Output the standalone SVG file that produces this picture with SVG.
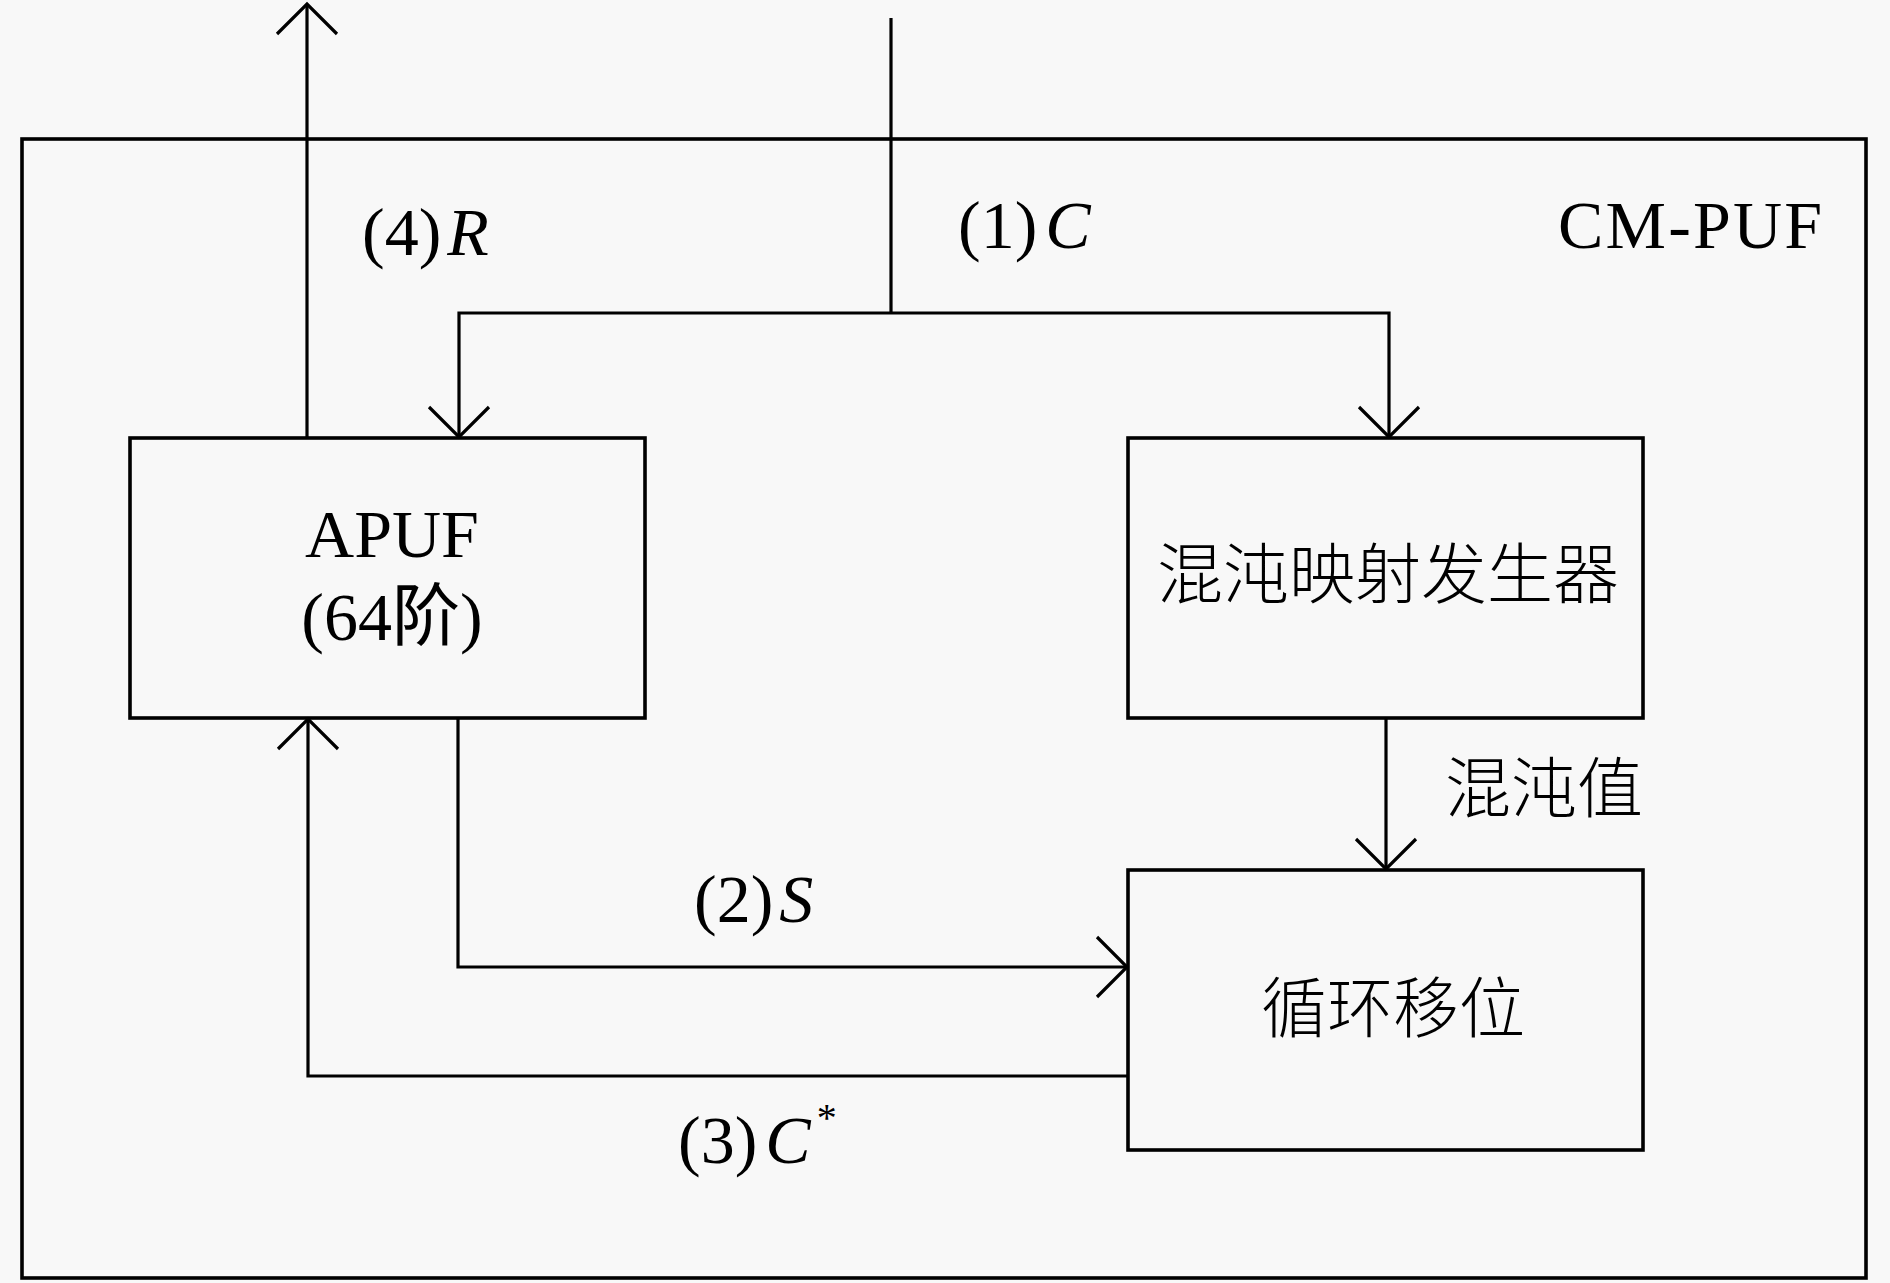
<svg xmlns="http://www.w3.org/2000/svg" width="1890" height="1283" viewBox="0 0 1890 1283">
<style>
.box{fill:none;stroke:#000;stroke-width:3.6}
.ln{fill:none;stroke:#000;stroke-width:3.2}
.lat{font-family:"Liberation Serif","Noto Sans CJK SC",serif;font-size:68px;fill:#000}
.it{font-style:italic}
.cjk{font-family:"Noto Sans CJK SC",sans-serif;font-size:66px;font-weight:300;fill:#000}
</style>
<defs>
<marker id="arr" viewBox="0 0 34 64" refX="32" refY="32" markerWidth="34" markerHeight="64" markerUnits="userSpaceOnUse" orient="auto" overflow="visible">
<path d="M2,2 L32,32 L2,62" fill="none" stroke="#000" stroke-width="3.2"/>
</marker>
</defs>
<rect x="0" y="0" width="1890" height="1283" fill="#f8f8f8"/>
<g id="cm-puf">
<rect class="box" x="22" y="139" width="1844" height="1139"/>
<text class="lat" x="1558" y="248" textLength="264">CM-PUF</text>
</g>
<g id="apuf">
<rect class="box" x="130" y="438" width="515" height="280"/>
<text class="lat" x="392" y="557" text-anchor="middle">APUF</text>
<text class="lat" x="392" y="640" text-anchor="middle">(64阶)</text>
</g>
<g id="chaos-gen">
<rect class="box" x="1128" y="438" width="515" height="280"/>
<text class="cjk" x="1388" y="598" text-anchor="middle">混沌映射发生器</text>
</g>
<g id="shift">
<rect class="box" x="1128" y="870" width="515" height="280"/>
<text class="cjk" x="1393" y="1032" text-anchor="middle">循环移位</text>
</g>
<g id="connectors">
<polyline class="ln" points="307,438 307,4" marker-end="url(#arr)"/>
<line class="ln" x1="891" y1="18" x2="891" y2="313"/>
<polyline class="ln" points="891,313 459,313 459,437" marker-end="url(#arr)"/>
<polyline class="ln" points="891,313 1389,313 1389,437" marker-end="url(#arr)"/>
<polyline class="ln" points="458,718 458,967 1127,967" marker-end="url(#arr)"/>
<polyline class="ln" points="1128,1076 308,1076 308,719" marker-end="url(#arr)"/>
<line class="ln" x1="1386" y1="718" x2="1386" y2="869" marker-end="url(#arr)"/>
<text class="lat" x="362" y="255">(4)<tspan class="it" dx="6">R</tspan></text>
<text class="lat" x="958" y="248">(1)<tspan class="it" dx="8">C</tspan></text>
<text class="lat" x="694" y="922">(2)<tspan class="it" dx="6">S</tspan></text>
<text class="lat" x="678" y="1163">(3)<tspan class="it" dx="8">C</tspan><tspan font-size="40" dx="6" dy="-32">*</tspan></text>
<text class="cjk" x="1445" y="812">混沌值</text>
</g>
</svg>
